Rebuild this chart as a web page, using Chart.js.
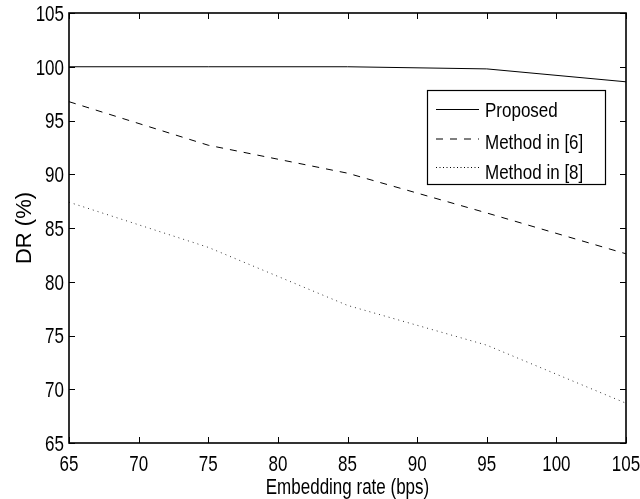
<!DOCTYPE html>
<html><head><meta charset="utf-8">
<script src="https://cdn.jsdelivr.net/npm/chart.js@4"></script>
<style>html,body{margin:0;padding:0;background:#fff}#wrap{width:640px;height:499px}</style>
</head><body><div id="wrap"><canvas id="c" width="640" height="499"></canvas></div>
<script>
const xValues = [65, 75, 85, 95, 105];
const proposed = [100, 100, 100, 99.8, 98.6];
const method6 = [96.75, 92.7, 90.1, 86.4, 82.6];
const method8 = [87.4, 83.2, 77.8, 74.1, 68.7];
const seriesLabels = ['Proposed', 'Method in [6]', 'Method in [8]'];
const xTitle = 'Embedding rate (bps)';
const yTitle = 'DR (%)';
const FONT = '"Liberation Sans", Arial, Helvetica, sans-serif';
const SY = 1.3;

const toPts = arr => xValues.map((x, i) => ({x, y: arr[i]}));

function stretchedText(ctx, text, x, y, align, sy) {
  ctx.save();
  ctx.translate(x, y);
  ctx.scale(1, sy);
  ctx.textAlign = align;
  ctx.textBaseline = 'alphabetic';
  ctx.fillText(text, 0, 0);
  ctx.restore();
}

const frameTicks = {
  id: 'frameTicks',
  afterDraw(chart) {
    const {ctx, chartArea: a, scales: {x, y}} = chart;
    ctx.save();
    ctx.strokeStyle = '#000';
    ctx.fillStyle = '#000';
    ctx.lineWidth = 1.6;
    ctx.strokeRect(a.left, a.top, a.right - a.left, a.bottom - a.top);
    ctx.lineWidth = 1;
    const L = 6;
    ctx.beginPath();
    x.ticks.forEach(t => {
      const px = Math.round(x.getPixelForValue(t.value)) + 0.5;
      ctx.moveTo(px, a.bottom); ctx.lineTo(px, a.bottom - L);
      ctx.moveTo(px, a.top); ctx.lineTo(px, a.top + L);
    });
    y.ticks.forEach(t => {
      const py = Math.round(y.getPixelForValue(t.value)) + 0.5;
      ctx.moveTo(a.left, py); ctx.lineTo(a.left + L, py);
      ctx.moveTo(a.right, py); ctx.lineTo(a.right - L, py);
    });
    ctx.stroke();
    ctx.font = '17px ' + FONT;
    x.ticks.forEach(t => {
      stretchedText(ctx, String(t.value), x.getPixelForValue(t.value), 470.5, 'center', SY);
    });
    y.ticks.forEach(t => {
      stretchedText(ctx, String(t.value), 64, y.getPixelForValue(t.value) + 7.9, 'right', SY);
    });
    stretchedText(ctx, xTitle, (a.left + a.right) / 2, 494, 'center', SY);
    ctx.save();
    ctx.translate(31, (a.top + a.bottom) / 2);
    ctx.rotate(-Math.PI / 2);
    ctx.font = '22px ' + FONT;
    ctx.textAlign = 'center';
    ctx.textBaseline = 'alphabetic';
    ctx.fillText(yTitle, 0, 0);
    ctx.restore();
    const bx = 427.5, by = 90.5, bw = 178, bh = 94;
    ctx.fillStyle = '#fff';
    ctx.fillRect(bx, by, bw, bh);
    ctx.lineWidth = 1.2;
    ctx.strokeRect(bx, by, bw, bh);
    ctx.fillStyle = '#000';
    ctx.lineWidth = 1;
    ctx.font = '17px ' + FONT;
    const lineY = [109, 138.5, 167];
    const textBase = [117, 149, 178.5];
    chart.data.datasets.forEach((ds, i) => {
      const ry = lineY[i] + 0.5;
      ctx.setLineDash(i === 2 ? [1, 2.5] : (ds.borderDash || []));
      ctx.beginPath();
      ctx.moveTo(436, ry); ctx.lineTo(479, ry);
      ctx.stroke();
      ctx.setLineDash([]);
      stretchedText(ctx, ds.label, 485, textBase[i], 'left', 1.18);
    });
    ctx.restore();
  }
};

new Chart(document.getElementById('c'), {
  type: 'line',
  data: {
    datasets: [
      {label: seriesLabels[0], data: toPts(proposed), borderColor: '#000', borderWidth: 1, pointRadius: 0, borderDash: []},
      {label: seriesLabels[1], data: toPts(method6), borderColor: '#000', borderWidth: 1, pointRadius: 0, borderDash: [7, 7]},
      {label: seriesLabels[2], data: toPts(method8), borderColor: '#333', borderWidth: 1, pointRadius: 0, borderDash: [1, 4]}
    ]
  },
  options: {
    responsive: false,
    animation: false,
    layout: {padding: {top: 13, right: 14, left: 0, bottom: 0}},
    plugins: {legend: {display: false}, tooltip: {enabled: false}},
    scales: {
      x: {
        type: 'linear', min: 65, max: 105,
        ticks: {stepSize: 5, display: false},
        grid: {display: false},
        border: {display: false},
        afterFit(s) { s.height = 56; }
      },
      y: {
        min: 65, max: 105,
        ticks: {stepSize: 5, display: false},
        grid: {display: false},
        border: {display: false},
        afterFit(s) { s.width = 69; }
      }
    }
  },
  plugins: [frameTicks]
});
</script></body></html>
